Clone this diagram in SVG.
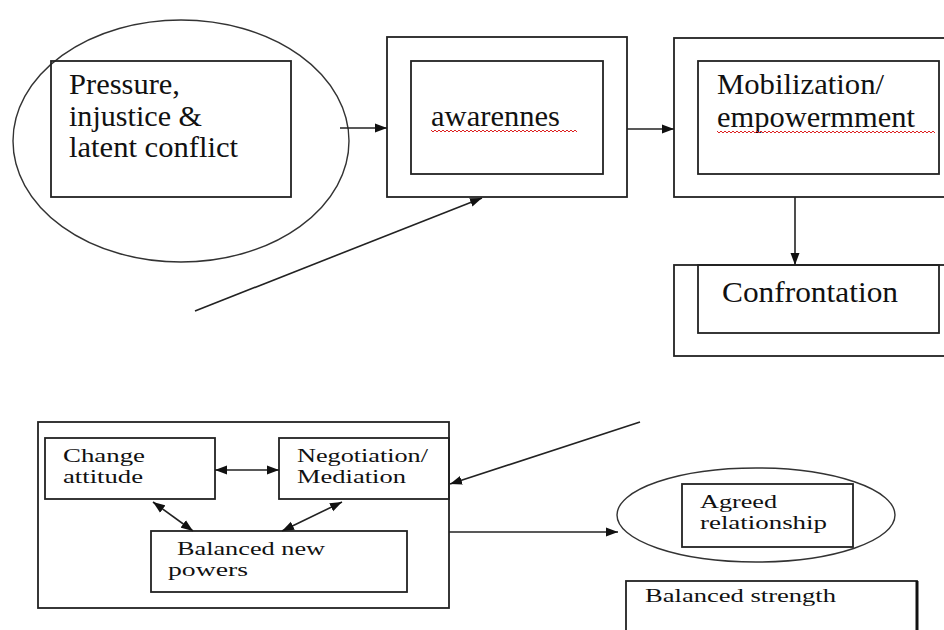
<svg xmlns="http://www.w3.org/2000/svg" width="944" height="630" viewBox="0 0 944 630">
<style>
.b{fill:none;stroke:#222;stroke-width:1.8}
.e{fill:none;stroke:#333;stroke-width:1.4}
.c{fill:none;stroke:#222;stroke-width:1.6}
text{font-family:'Liberation Serif','DejaVu Serif',serif;fill:#111}
.L{font-size:29px}
.S{font-size:18px}
.w{fill:none;stroke:#d22;stroke-width:1}
</style>
<defs>
<marker id="ah" viewBox="0 0 12 10" refX="12" refY="5" markerWidth="12" markerHeight="10" markerUnits="userSpaceOnUse" orient="auto-start-reverse">
<path d="M0,0.5 L12,5 L0,9.5 Z" fill="#111"/>
</marker>
</defs>
<rect width="944" height="630" fill="#fff"/>
<g id="pressure">
<ellipse class="e" cx="181" cy="141" rx="168" ry="121"/>
<rect class="b" x="51" y="61" width="240" height="136"/>
<text class="L" x="69" y="94" textLength="111" lengthAdjust="spacingAndGlyphs">Pressure,</text>
<text class="L" x="69" y="126" textLength="133" lengthAdjust="spacingAndGlyphs">injustice &amp;</text>
<text class="L" x="69" y="157" textLength="169" lengthAdjust="spacingAndGlyphs">latent conflict</text>
</g>
<g id="awareness">
<rect class="b" x="387" y="37" width="240" height="160"/>
<rect class="b" x="411" y="61" width="192" height="113"/>
<text class="L" x="431" y="126" textLength="129" lengthAdjust="spacingAndGlyphs">awarennes</text>
<path class="w" d="M431,130 l2,2 l2,-2 l2,2 l2,-2 l2,2 l2,-2 l2,2 l2,-2 l2,2 l2,-2 l2,2 l2,-2 l2,2 l2,-2 l2,2 l2,-2 l2,2 l2,-2 l2,2 l2,-2 l2,2 l2,-2 l2,2 l2,-2 l2,2 l2,-2 l2,2 l2,-2 l2,2 l2,-2 l2,2 l2,-2 l2,2 l2,-2 l2,2 l2,-2 l2,2 l2,-2 l2,2 l2,-2 l2,2 l2,-2 l2,2 l2,-2 l2,2 l2,-2 l2,2 l2,-2 l2,2 l2,-2 l2,2 l2,-2 l2,2 l2,-2 l2,2 l2,-2 l2,2 l2,-2 l2,2 l2,-2 l2,2 l2,-2 l2,2 l2,-2 l2,2 l2,-2 l2,2 l2,-2 l2,2 l2,-2 l2,2 l2,-2 l2,2"/>
</g>
<g id="mobilization">
<rect class="b" x="674" y="38" width="280" height="159"/>
<rect class="b" x="698" y="61" width="241" height="113"/>
<text class="L" x="717" y="94" textLength="167" lengthAdjust="spacingAndGlyphs">Mobilization/</text>
<text class="L" x="717" y="127" textLength="198" lengthAdjust="spacingAndGlyphs">empowermment</text>
<path class="w" d="M717,131 l2,2 l2,-2 l2,2 l2,-2 l2,2 l2,-2 l2,2 l2,-2 l2,2 l2,-2 l2,2 l2,-2 l2,2 l2,-2 l2,2 l2,-2 l2,2 l2,-2 l2,2 l2,-2 l2,2 l2,-2 l2,2 l2,-2 l2,2 l2,-2 l2,2 l2,-2 l2,2 l2,-2 l2,2 l2,-2 l2,2 l2,-2 l2,2 l2,-2 l2,2 l2,-2 l2,2 l2,-2 l2,2 l2,-2 l2,2 l2,-2 l2,2 l2,-2 l2,2 l2,-2 l2,2 l2,-2 l2,2 l2,-2 l2,2 l2,-2 l2,2 l2,-2 l2,2 l2,-2 l2,2 l2,-2 l2,2 l2,-2 l2,2 l2,-2 l2,2 l2,-2 l2,2 l2,-2 l2,2 l2,-2 l2,2 l2,-2 l2,2 l2,-2 l2,2 l2,-2 l2,2 l2,-2 l2,2 l2,-2 l2,2 l2,-2 l2,2 l2,-2 l2,2 l2,-2 l2,2 l2,-2 l2,2 l2,-2 l2,2 l2,-2 l2,2 l2,-2 l2,2 l2,-2 l2,2 l2,-2 l2,2 l2,-2 l2,2 l2,-2 l2,2 l2,-2 l2,2 l2,-2 l2,2 l2,-2 l2,2"/>
</g>
<g id="confrontation">
<rect class="b" x="674" y="265" width="280" height="91"/>
<rect class="b" x="698" y="265" width="241" height="68"/>
<text class="L" x="722" y="302" textLength="176" lengthAdjust="spacingAndGlyphs">Confrontation</text>
</g>
<g id="process">
<rect class="b" x="38" y="422" width="411" height="186"/>
</g>
<g id="change">
<rect class="b" x="45" y="438" width="170" height="61"/>
<text class="S" x="63" y="462" textLength="82" lengthAdjust="spacingAndGlyphs">Change</text>
<text class="S" x="63" y="483" textLength="80" lengthAdjust="spacingAndGlyphs">attitude</text>
</g>
<g id="negotiation">
<rect class="b" x="279" y="438" width="170" height="61"/>
<text class="S" x="297" y="462" textLength="131" lengthAdjust="spacingAndGlyphs">Negotiation/</text>
<text class="S" x="297" y="483" textLength="109" lengthAdjust="spacingAndGlyphs">Mediation</text>
</g>
<g id="balanced">
<rect class="b" x="151" y="531" width="256" height="61"/>
<text class="S" x="177" y="555" textLength="148" lengthAdjust="spacingAndGlyphs">Balanced new</text>
<text class="S" x="168" y="576" textLength="80" lengthAdjust="spacingAndGlyphs">powers</text>
</g>
<g id="agreed">
<ellipse class="e" cx="756" cy="515" rx="139" ry="47"/>
<rect class="b" x="682" y="484" width="171" height="63"/>
<text class="S" x="700" y="508" textLength="77" lengthAdjust="spacingAndGlyphs">Agreed</text>
<text class="S" x="700" y="529" textLength="127" lengthAdjust="spacingAndGlyphs">relationship</text>
</g>
<g id="strength">
<rect class="b" x="626" y="581" width="291" height="70"/>
<line x1="917" y1="581" x2="917" y2="630" stroke="#111" stroke-width="3"/>
<text class="S" x="645" y="602" textLength="191" lengthAdjust="spacingAndGlyphs">Balanced strength</text>
</g>
<g id="connectors">
<line class="c" x1="340" y1="128" x2="387" y2="128" marker-end="url(#ah)"/>
<line class="c" x1="627" y1="129" x2="674" y2="129" marker-end="url(#ah)"/>
<line class="c" x1="795" y1="197" x2="795" y2="265" marker-end="url(#ah)"/>
<line class="c" x1="195" y1="311" x2="482" y2="198" marker-end="url(#ah)"/>
<line class="c" x1="640" y1="422" x2="450" y2="484" marker-end="url(#ah)"/>
<line class="c" x1="449" y1="532" x2="618" y2="532" marker-end="url(#ah)"/>
<line class="c" x1="215" y1="470" x2="279" y2="470" marker-start="url(#ah)" marker-end="url(#ah)"/>
<line class="c" x1="153" y1="502" x2="193" y2="531" marker-start="url(#ah)" marker-end="url(#ah)"/>
<line class="c" x1="342" y1="502" x2="282" y2="531" marker-start="url(#ah)" marker-end="url(#ah)"/>
</g>
</svg>
